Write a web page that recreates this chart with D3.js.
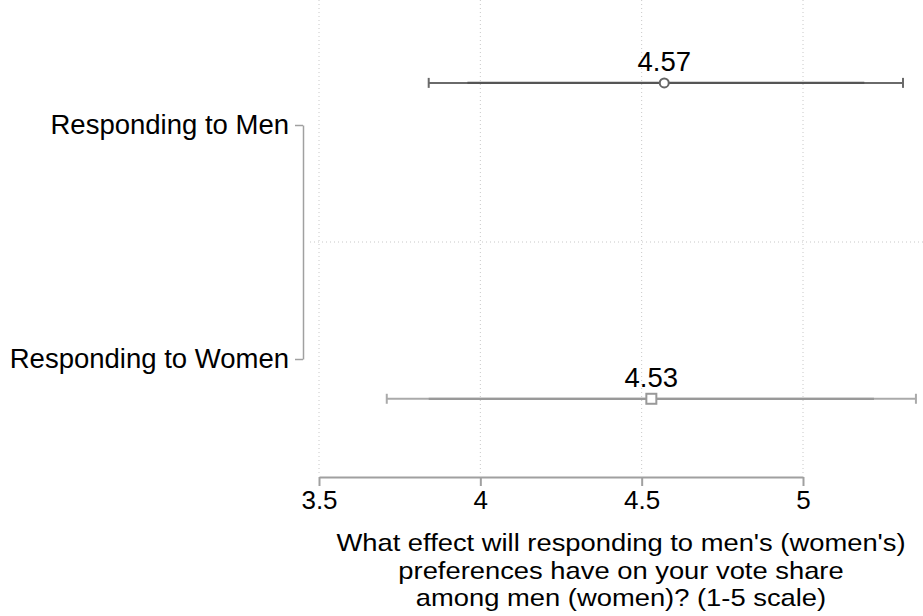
<!DOCTYPE html>
<html><head><meta charset="utf-8">
<script src="https://cdn.jsdelivr.net/npm/d3@7"></script>
<style>body{margin:0;background:#fff}svg{display:block}</style>
</head><body>
<script>
const categories = ["Responding to Men", "Responding to Women"];
const means = [4.57, 4.53];
const ci95Low = [3.84, 3.71];
const ci95High = [5.31, 5.35];
const ci90Low = [3.96, 3.84];
const ci90High = [5.19, 5.22];
const meanLabels = ["4.57", "4.53"];
const xTicks = [3.5, 4, 4.5, 5];
const titleLines = ["What effect will responding to men's (women's)", "preferences have on your vote share", "among men (women)? (1-5 scale)"];

const W = 923, H = 616;
const font = "'Liberation Sans', Arial, Helvetica, sans-serif";
const svg = d3.select("body").append("svg").attr("width", W).attr("height", H);

const x = d3.scaleLinear().domain([3.5, 5]).range([319, 803]);
const y = d3.scaleLinear().domain([1, 2]).range([125, 359]);
const offsets = [-0.18, 0.17];
const axisY = 477;
const plotTop = 0, plotRight = W;

// gridlines
const g = svg.append("g");
g.selectAll("line.vg").data(xTicks).join("line")
  .attr("x1", d => x(d)).attr("x2", d => x(d))
  .attr("y1", plotTop).attr("y2", axisY - 2)
  .attr("stroke", "#c8c8c8").attr("stroke-width", 1).attr("stroke-dasharray", "1,3");
g.append("line").attr("x1", 310).attr("x2", plotRight)
  .attr("y1", y(1.5)).attr("y2", y(1.5))
  .attr("stroke", "#c8c8c8").attr("stroke-width", 1).attr("stroke-dasharray", "1,3");

// x axis
const xAxis = d3.axisBottom(x).tickValues(xTicks).tickFormat(d3.format("")).tickSize(9).tickSizeOuter(0);
const ax = svg.append("g").attr("transform", `translate(0,${axisY})`).call(xAxis);
ax.select(".domain").attr("stroke", "#a0a0a0").attr("stroke-width", 2);
ax.selectAll(".tick line").attr("stroke", "#a0a0a0").attr("stroke-width", 2);
ax.selectAll(".tick text").attr("font-family", font).attr("font-size", 26).attr("fill", "#000").attr("dy", "0.92em").attr("y", 8);

// y axis (bracket)
const yAxis = d3.axisLeft(y).tickValues([1, 2]).tickFormat((d, i) => categories[i]).tickSize(8).tickSizeOuter(0);
const ay = svg.append("g").attr("transform", "translate(303,0)").call(yAxis);
ay.select(".domain").attr("stroke", "#a0a0a0").attr("stroke-width", 1.5);
ay.selectAll(".tick line").attr("stroke", "#a0a0a0").attr("stroke-width", 1.5);
ay.selectAll(".tick text").attr("font-family", font).attr("font-size", 27.5).attr("fill", "#000").attr("x", -14).attr("dy", "0.3em");

// series
const outerCol = ["#6a6a6a", "#aaaaaa"];
const innerCol = ["#555555", "#999999"];
const idx = [0, 1];
const s = svg.append("g");
s.selectAll("line.o").data(idx).join("line")
  .attr("x1", i => x(ci95Low[i])).attr("x2", i => x(ci95High[i]))
  .attr("y1", i => y(1 + i + offsets[i])).attr("y2", i => y(1 + i + offsets[i]))
  .attr("stroke", i => outerCol[i]).attr("stroke-width", 2);
s.selectAll("line.in").data(idx).join("line")
  .attr("x1", i => x(ci90Low[i])).attr("x2", i => x(ci90High[i]))
  .attr("y1", i => y(1 + i + offsets[i])).attr("y2", i => y(1 + i + offsets[i]))
  .attr("stroke", i => innerCol[i]).attr("stroke-width", 2.2);
["lo", "hi"].forEach(k => {
  s.selectAll("line.cap" + k).data(idx).join("line")
    .attr("x1", i => x(k === "lo" ? ci95Low[i] : ci95High[i]))
    .attr("x2", i => x(k === "lo" ? ci95Low[i] : ci95High[i]))
    .attr("y1", i => y(1 + i + offsets[i]) - 5).attr("y2", i => y(1 + i + offsets[i]) + 5)
    .attr("stroke", i => outerCol[i]).attr("stroke-width", 2);
});
// markers
s.append("circle").attr("cx", x(means[0])).attr("cy", y(1 + offsets[0])).attr("r", 4.5)
  .attr("fill", "#fff").attr("stroke", "#666").attr("stroke-width", 2);
s.append("rect").attr("x", x(means[1]) - 5).attr("y", y(2 + offsets[1]) - 5).attr("width", 10).attr("height", 10)
  .attr("fill", "#fff").attr("stroke", "#999").attr("stroke-width", 2);
// value labels
s.selectAll("text.v").data(idx).join("text")
  .attr("x", i => x(means[i])).attr("y", i => y(1 + i + offsets[i]) - 12)
  .attr("text-anchor", "middle").attr("font-family", font).attr("font-size", 27.5).attr("fill", "#000")
  .text(i => meanLabels[i]);

// title: three lines, slightly widened so lines do not collide
const tg = svg.append("g").attr("transform", `translate(${(319 + W) / 2},0) scale(1.14,1)`);
tg.selectAll("text").data(titleLines).join("text")
  .attr("x", 0).attr("y", (d, i) => 551 + i * 27.6)
  .attr("text-anchor", "middle").attr("font-family", font).attr("font-size", 24).attr("fill", "#000")
  .text(d => d);
</script>
</body></html>
